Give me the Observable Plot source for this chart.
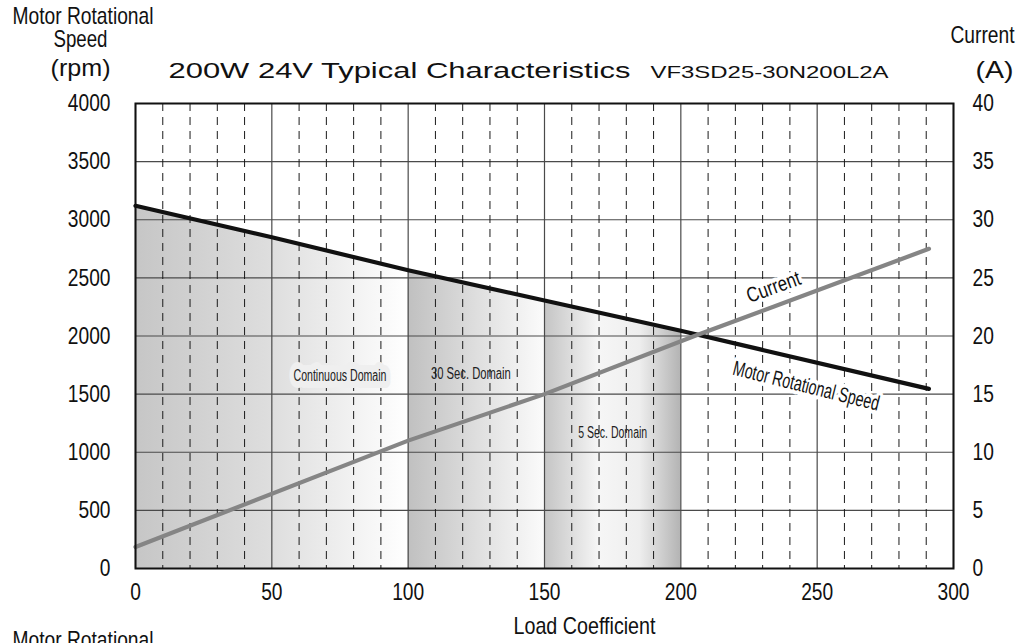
<!DOCTYPE html>
<html><head><meta charset="utf-8">
<script src="https://cdn.jsdelivr.net/npm/d3@7"></script>
<script src="https://cdn.jsdelivr.net/npm/@observablehq/plot@0.6"></script>
<style>
html,body{margin:0;padding:0;background:#fff;overflow:hidden;}
#chart svg{display:block;}
</style></head><body><div id="chart"></div>
<script>
// ---- data ----
const loadX = [0, 50, 100, 150, 200, 291];
const speedRpm = [3120, 2850, 2565, 2305, 2045, 1545];
const currentX = [0, 100, 150, 205, 291];
const currentA = [1.85, 11.0, 15.0, 20.0, 27.5];
const domainNames = ["Continuous Domain", "30 Sec. Domain", "5 Sec. Domain"];
const domainFrom = [0, 100, 150];
const domainTo = [100, 150, 200];
const domainLabelX = [75, 123, 175];
const domainLabelY = [1660, 1670, 1170];
const xTicks = [0, 50, 100, 150, 200, 250, 300];
const xMinor = [10, 20, 30, 40, 60, 70, 80, 90, 110, 120, 130, 140, 160, 170, 180, 190, 210, 220, 230, 240, 260, 270, 280, 290];
const speedTicks = [0, 500, 1000, 1500, 2000, 2500, 3000, 3500, 4000];
const currentTicks = [0, 5, 10, 15, 20, 25, 30, 35, 40];
const currentPerRpm = 100; // right axis: 40 A at 4000 rpm
const lineLabels = ["Current", "Motor Rotational Speed"];
const lineLabelX = [234, 246];
const lineLabelY = [2420, 1570];
const lineLabelAngle = [-20, 14];

// ---- derived tables ----
const speedData = loadX.map((x, i) => ({x, y: speedRpm[i]}));
const currentData = currentX.map((x, i) => ({x, y: currentA[i] * currentPerRpm}));
const domainLabels = domainNames.map((t, i) => ({t, x: domainLabelX[i], y: domainLabelY[i]}));
const lineLabelData = lineLabels.map((t, i) => ({t, x: lineLabelX[i], y: lineLabelY[i], r: lineLabelAngle[i]}));

const sans = "'Liberation Sans', Arial, Helvetica, sans-serif";

const areaMarks = domainFrom.map((lo, i) =>
  Plot.areaY(speedData.filter(d => d.x >= lo && d.x <= domainTo[i]), {x: "x", y: "y", fill: `url(#dom${i})`})
);

const outer = (txt, anchor, dx, dy, textAnchor, size) =>
  Plot.text([txt], {frameAnchor: anchor, dx, dy, text: d => d, textAnchor, lineAnchor: "bottom",
    fontSize: size, fontFamily: sans, fill: "#111"});

const chart = Plot.plot({
  width: 1021,
  height: 643,
  marginLeft: 135,
  marginRight: 68,
  marginTop: 103,
  marginBottom: 75,
  style: {fontFamily: sans, fontSize: "24px", color: "#111", background: "#fff"},
  x: {domain: [0, 300]},
  y: {domain: [0, 4000]},
  marks: [
    ...areaMarks,
    Plot.ruleY(speedTicks, {stroke: "#4a4a4a", strokeWidth: 1.2}),
    Plot.ruleX(xTicks, {stroke: "#4a4a4a", strokeWidth: 1.2}),
    Plot.ruleX(xMinor, {stroke: "#1a1a1a", strokeWidth: 1, strokeDasharray: "8,6"}),
    Plot.axisX({ticks: xTicks, tickSize: 0, tickPadding: 14, label: null, fontSize: 24, fontFamily: sans}),
    Plot.axisY({ticks: speedTicks, anchor: "left", tickSize: 0, tickPadding: 25, label: null, tickFormat: d => String(d), fontSize: 24, fontFamily: sans}),
    Plot.axisY({ticks: currentTicks.map(c => c * currentPerRpm), anchor: "right", tickSize: 0, tickPadding: 19, label: null, tickFormat: d => String(d / currentPerRpm), fontSize: 24, fontFamily: sans}),
    Plot.text(domainLabels.slice(0, 1), {x: "x", y: "y", text: "t", fontSize: 16, fontFamily: sans, fill: "#222", stroke: "#efefef", strokeWidth: 14}),
    Plot.text(domainLabels.slice(1), {x: "x", y: "y", text: "t", fontSize: 16, fontFamily: sans, fill: "#222"}),
    Plot.line(speedData, {x: "x", y: "y", stroke: "#111", strokeWidth: 4.2}),
    Plot.line(currentData, {x: "x", y: "y", stroke: "#858585", strokeWidth: 4.2}),
    Plot.text(lineLabelData, {x: "x", y: "y", text: "t", rotate: "r", fontSize: 21, fontFamily: sans, fill: "#111", stroke: "white", strokeWidth: 8}),
    Plot.frame({stroke: "#111", strokeWidth: 2}),
    outer("Motor Rotational", "top-left", -123, -80, "start", 24),
    outer("Speed", "top-left", -55, -57, "middle", 24),
    outer("(rpm)", "top-left", -55, -28, "middle", 24),
    outer("Current", "top-right", 61, -61, "end", 24),
    outer("(A)", "top-right", 41, -26, "middle", 24),
    outer("200W 24V Typical Characteristics", "top-left", 33, -26, "start", 22),
    outer("VF3SD25-30N200L2A", "top-left", 515, -26, "start", 17),
    outer("Load Coefficient", "bottom", 40, 65, "middle", 24),
    outer("Motor Rotational", "bottom-left", -123, 79, "start", 24)
  ]
});

// gradient fills for the operating domains
const svg = d3.select(chart);
const defs = svg.insert("defs", ":first-child");
const gradStops = [
  [[0, "#c6c6c6"], [0.5, "#dedede"], [1, "#ffffff"]],
  [[0, "#c0c0c0"], [0.6, "#e4e4e4"], [1, "#fbfbfb"]],
  [[0, "#c4c4c4"], [0.4, "#f6f6f6"], [0.7, "#eeeeee"], [1, "#b4b4b4"]]
];
gradStops.forEach((stops, i) => {
  const g = defs.append("linearGradient").attr("id", `dom${i}`).attr("x1", 0).attr("x2", 1).attr("y1", 0).attr("y2", 0);
  stops.forEach(([o, c]) => g.append("stop").attr("offset", o).attr("stop-color", c));
});

document.getElementById("chart").appendChild(chart);

// emulate the condensed lettering of the original (and the extended title face)
const targetLength = new Map([
  ["200W 24V Typical Characteristics", 462],
  ["VF3SD25-30N200L2A", 238],
  ["Motor Rotational", 141],
  ["Speed", 54],
  ["(rpm)", 60],
  ["(A)", 38],
  ["Load Coefficient", 142],
  ["Continuous Domain", 93],
  ["30 Sec. Domain", 80],
  ["5 Sec. Domain", 69],
  ["Motor Rotational Speed", 150]
]);
svg.selectAll("text").each(function() {
  const t = this.textContent;
  if (!t) return;
  const n = this.getComputedTextLength();
  const L = targetLength.has(t) ? targetLength.get(t) : n * 0.8;
  this.setAttribute("textLength", L);
  this.setAttribute("lengthAdjust", "spacingAndGlyphs");
});
</script></body></html>
